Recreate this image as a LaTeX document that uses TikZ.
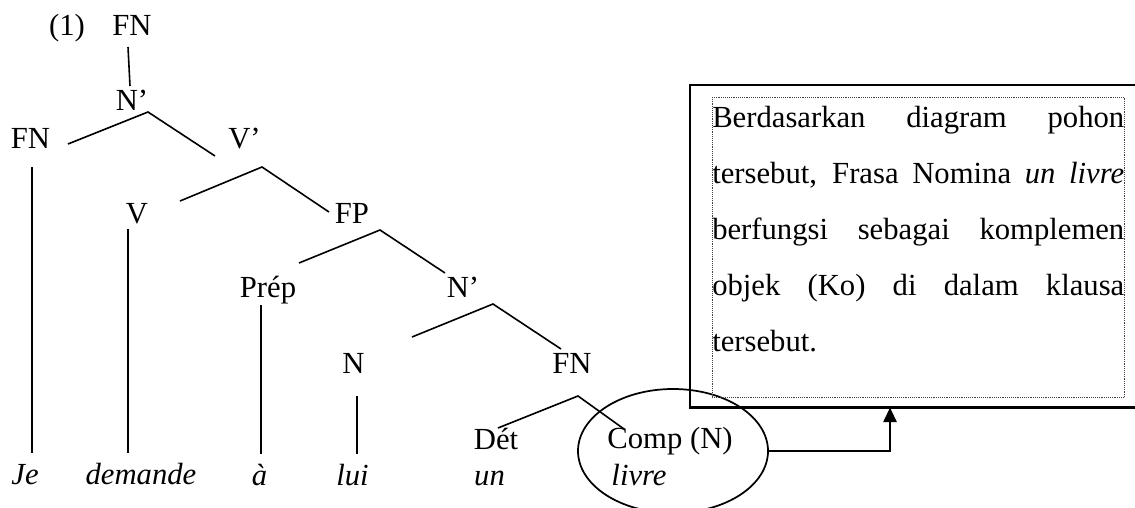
\documentclass[tikz,border=0pt]{standalone}
\usepackage{fontspec}
\setmainfont{Liberation Serif}
\usetikzlibrary{shapes.geometric}
\usetikzlibrary{arrows.meta}

\begin{document}
\begin{tikzpicture}[x=0.75pt,y=0.75pt,yscale=-1,xscale=1,
  lbl/.style={anchor=base,inner sep=0pt,font=\fontsize{23}{28}\selectfont},
  word/.style={anchor=base,inner sep=0pt,font=\fontsize{23}{28}\selectfont\itshape},
  branch/.style={line width=1.2pt},
  frame/.style={line width=1.6pt}]
\useasboundingbox (0,0) rectangle (1135,507);
\clip (0,0) rectangle (1135,507);

% Text Node
\draw (67,35) node [lbl] (num) {(1)};
% Text Node
\draw (132,35) node [lbl] (fnA) {FN};
% Text Node
\draw (132,110) node [lbl] (nbA) {N’};
% Text Node
\draw (30.5,148) node [lbl] (fnB) {FN};
% Text Node
\draw (244.5,148) node [lbl] (vbA) {V’};
% Text Node
\draw (137,223) node [lbl] (v) {V};
% Text Node
\draw (352,223) node [lbl] (fp) {FP};
% Text Node
\draw (268,297) node [lbl] (prep) {Prép};
% Text Node
\draw (463,297) node [lbl] (nbB) {N’};
% Text Node
\draw (353.5,373) node [lbl] (n) {N};
% Text Node
\draw (572,373) node [lbl] (fnC) {FN};
% Text Node
\draw (496,449) node [lbl] (det) {Dét};
% Text Node
\draw (670,448) node [lbl] (comp) {Comp (N)};

% Text Node
\draw (25,484) node [word] (wJe) {Je};
% Text Node
\draw (141,484) node [word] (wDemande) {demande};
% Text Node
\draw (259.5,485) node [word] (wA) {à};
% Text Node
\draw (352.5,485) node [word] (wLui) {lui};
% Text Node
\draw (489.5,485) node [word] (wUn) {un};
% Text Node
\draw (639,485) node [word] (wLivre) {livre};

%Straight Lines
\draw [branch] ([shift={(-4,12)}]fnA.base) -- ([shift={(-2,-24)}]nbA.base) ;
\draw [branch] ([shift={(37.5,-4)}]fnB.base) -- ([shift={(16,2)}]nbA.base) -- ([shift={(-29.5,8)}]vbA.base) ;
\draw [branch] ([shift={(43,-22)}]v.base) -- ([shift={(17.5,19)}]vbA.base) -- ([shift={(-23,-11)}]fp.base) ;
\draw [branch] ([shift={(31,-34)}]prep.base) -- ([shift={(28,7)}]fp.base) -- ([shift={(-18,-24)}]nbB.base) ;
\draw [branch] ([shift={(58.5,-36)}]n.base) -- ([shift={(30,7)}]nbB.base) -- ([shift={(-11,-24)}]fnC.base) ;
\draw [branch] ([shift={(2,-21)}]det.base) -- ([shift={(6,23)}]fnC.base) -- ([shift={(-46,-19)}]comp.base) ;
%Straight Lines
\draw [branch] ([shift={(1.5,19)}]fnB.base) -- ([shift={(7,-31)}]wJe.base) ;
\draw [branch] ([shift={(-9,6)}]v.base) -- ([shift={(-13,-31)}]wDemande.base) ;
\draw [branch] ([shift={(-7,8)}]prep.base) -- ([shift={(1.5,-31)}]wA.base) ;
\draw [branch] ([shift={(3.5,23)}]n.base) -- ([shift={(4.5,-31)}]wLui.base) ;

%Shape: Ellipse
\node [ellipse, draw, line width=1.3pt, minimum width=142.5pt, minimum height=93pt, inner sep=0pt] (ell) at (673,451) {};

% Text Node
\node [anchor=north west, draw=black!75, densely dotted, inner sep=0pt, text width=309pt, align=justify, font=\fontsize{23}{42}\selectfont] (note) at (712,97)
  {\rule{0pt}{22.5pt}Berdasarkan diagram pohon\linebreak tersebut, Frasa Nomina \textit{un livre}\linebreak berfungsi sebagai komplemen\linebreak objek (Ko) di dalam klausa\linebreak tersebut.\rule[-34.5pt]{0pt}{0pt}};
%Shape: Rectangle
\draw [frame] ([shift={(-22,-12)}]note.north west) rectangle ([shift={(30,10)}]note.south east) ;

%Straight Lines
\draw [line width=1.5pt, -{Triangle[width=10pt,length=11pt]}] (ell.east) -| ([shift={(178,10)}]note.south west) ;

\end{tikzpicture}
\end{document}
